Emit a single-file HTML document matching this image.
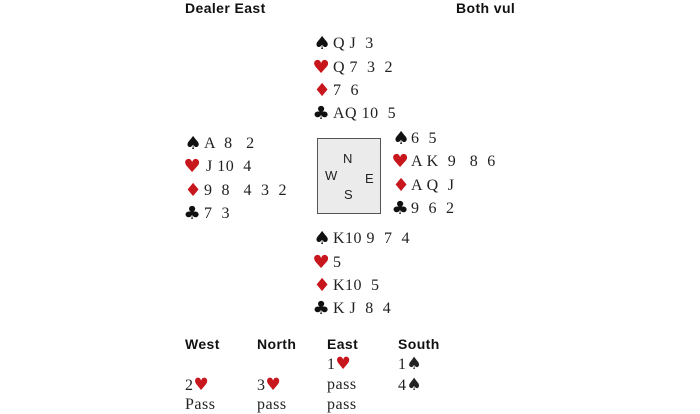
<!DOCTYPE html>
<html><head><meta charset="utf-8"><style>
body{margin:0;width:700px;height:413px;background:#fff;position:relative;overflow:hidden}
.t{position:absolute;font-family:"Liberation Serif",serif;font-size:16px;line-height:18px;color:#222;white-space:pre;letter-spacing:0.5px}
.s{position:absolute;font-family:"DejaVu Sans",sans-serif;font-size:18px;line-height:20px;color:#111;transform:scaleX(1.08)}
.r{color:#c8161d}
.h{position:absolute;font-family:"Liberation Sans",sans-serif;font-weight:bold;font-size:14px;line-height:16px;color:#111;letter-spacing:0.4px}
.box{position:absolute;left:317px;top:138px;width:62px;height:74px;background:#ebebeb;border:1.5px solid #555}
.c{position:absolute;font-family:"Liberation Sans",sans-serif;font-size:13px;color:#222}
.i{font-family:'DejaVu Sans',sans-serif;font-size:17px}
</style></head><body>
<div class="h" style="left:185px;top:0">Dealer East</div>
<div class="h" style="left:456px;top:0">Both vul</div>

<div class="s" style="left:314px;top:34px">♠</div><div class="t" style="left:333px;top:35px">Q J  3</div>
<div class="s r" style="left:313px;top:58px">♥</div><div class="t" style="left:333px;top:59px">Q 7  3  2</div>
<div class="s r" style="left:314px;top:81px">♦</div><div class="t" style="left:333px;top:82px">7  6</div>
<div class="s" style="left:313px;top:104px">♣</div><div class="t" style="left:333px;top:105px">AQ 10  5</div>

<div class="s" style="left:185px;top:134px">♠</div><div class="t" style="left:204px;top:135px">A  8   2</div>
<div class="s r" style="left:184px;top:157px">♥</div><div class="t" style="left:206px;top:158px">J 10  4</div>
<div class="s r" style="left:185px;top:181px">♦</div><div class="t" style="left:204px;top:182px">9  8   4  3  2</div>
<div class="s" style="left:184px;top:204px">♣</div><div class="t" style="left:204px;top:205px">7  3</div>

<div class="box"></div>
<div class="c" style="left:343px;top:151px">N</div>
<div class="c" style="left:325px;top:168px">W</div>
<div class="c" style="left:365px;top:171px">E</div>
<div class="c" style="left:344px;top:187px">S</div>

<div class="s" style="left:393px;top:129px">♠</div><div class="t" style="left:411px;top:130px">6  5</div>
<div class="s r" style="left:392px;top:152px">♥</div><div class="t" style="left:411px;top:153px">A K  9   8  6</div>
<div class="s r" style="left:393px;top:176px">♦</div><div class="t" style="left:411px;top:177px">A Q  J</div>
<div class="s" style="left:392px;top:199px">♣</div><div class="t" style="left:411px;top:200px">9  6  2</div>

<div class="s" style="left:314px;top:229px">♠</div><div class="t" style="left:333px;top:230px">K10 9  7  4</div>
<div class="s r" style="left:313px;top:253px">♥</div><div class="t" style="left:333px;top:254px">5</div>
<div class="s r" style="left:314px;top:276px">♦</div><div class="t" style="left:333px;top:277px">K10  5</div>
<div class="s" style="left:313px;top:299px">♣</div><div class="t" style="left:333px;top:300px">K J  8  4</div>

<div class="h" style="left:185px;top:336px">West</div>
<div class="h" style="left:257px;top:336px">North</div>
<div class="h" style="left:327px;top:336px">East</div>
<div class="h" style="left:398px;top:336px">South</div>

<div class="t" style="left:327px;top:355px">1<span class="r i">♥</span></div>
<div class="t" style="left:398px;top:355px">1<span class="i">♠</span></div>
<div class="t" style="left:185px;top:376px">2<span class="r i">♥</span></div>
<div class="t" style="left:257px;top:376px">3<span class="r i">♥</span></div>
<div class="t" style="left:327px;top:376px">pass</div>
<div class="t" style="left:398px;top:376px">4<span class="i">♠</span></div>
<div class="t" style="left:185px;top:396px">Pass</div>
<div class="t" style="left:257px;top:396px">pass</div>
<div class="t" style="left:327px;top:396px">pass</div>
</body></html>
